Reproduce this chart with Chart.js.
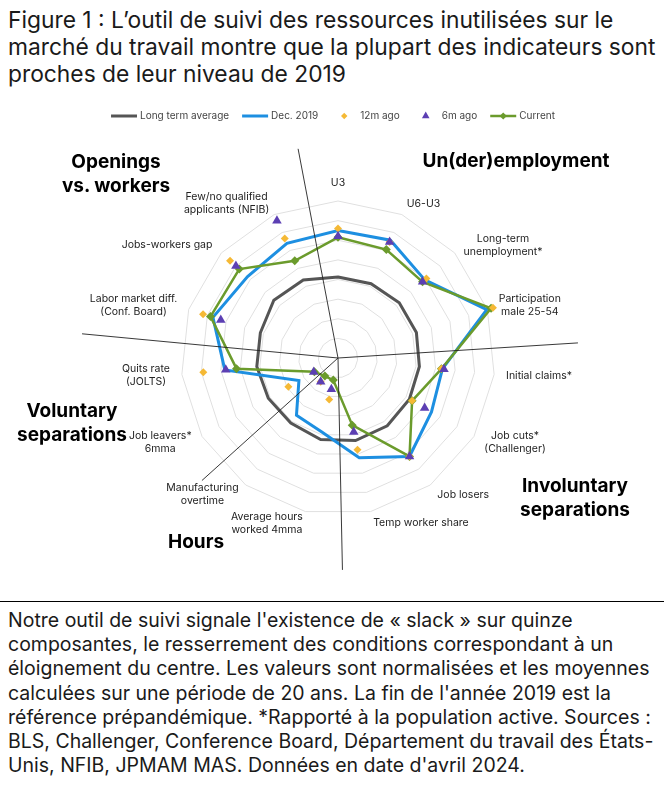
<!DOCTYPE html>
<html>
<head>
<meta charset="utf-8">
<script src="https://cdn.jsdelivr.net/npm/chart.js@4.4.1/dist/chart.umd.min.js"></script>
<style>
  body { margin: 0; width: 664px; height: 793px; background: #fff; position: relative; overflow: hidden;
         font-family: Inter, Roboto, sans-serif; color: #111; }
  #title { position: absolute; left: 8px; top: 6px; font-size: 22.8px; line-height: 27px; white-space: nowrap; color: #1a1a1a; }
  #wrap { position: absolute; left: 0; top: 100px; width: 664px; height: 490px; }
  .sect { position: absolute; transform: translate(-50%, -50%); font-weight: bold; font-size: 19px;
          line-height: 24px; text-align: center; white-space: nowrap; color: #000; }
  #rule { position: absolute; left: 0; top: 601px; width: 664px; height: 1px; background: #000; }
  #note { position: absolute; left: 8px; top: 608px; font-size: 19.5px; line-height: 24.2px; white-space: nowrap; color: #1a1a1a; }
</style>
</head>
<body>
<div id="title">Figure 1 : L’outil de suivi des ressources inutilisées sur le<br>marché du travail montre que la plupart des indicateurs sont<br>proches de leur niveau de 2019</div>

<div id="wrap"><canvas id="chart" width="664" height="490"></canvas></div>

<div class="sect" style="left:116px; top:174px">Openings<br>vs. workers</div>
<div class="sect" style="left:516px; top:161px">Un(der)employment</div>
<div class="sect" style="left:72px; top:423px">Voluntary<br>separations</div>
<div class="sect" style="left:575px; top:498px">Involuntary<br>separations</div>
<div class="sect" style="left:196px; top:542px">Hours</div>

<div id="rule"></div>
<div id="note">Notre outil de suivi signale l'existence de « slack » sur quinze<br>composantes, le resserrement des conditions correspondant à un<br>éloignement du centre. Les valeurs sont normalisées et les moyennes<br>calculées sur une période de 20 ans. La fin de l'année 2019 est la<br>référence prépandémique. *Rapporté à la population active. Sources :<br>BLS, Challenger, Conference Board, Département du travail des États-<br>Unis, NFIB, JPMAM MAS. Données en date d'avril 2024.</div>

<script>
// spokes, clockwise from the top
const categories = [
  "U3",
  "U6-U3",
  ["Long-term", "unemployment*"],
  ["Participation", "male 25-54"],
  "Initial claims*",
  ["Job cuts*", "(Challenger)"],
  "Job losers",
  "Temp worker share",
  ["Average hours", "worked 4mma"],
  ["Manufacturing", "overtime"],
  ["Job leavers*", "6mma"],
  ["Quits rate", "(JOLTS)"],
  ["Labor market diff.", "(Conf. Board)"],
  "Jobs-workers gap",
  ["Few/no qualified", "applicants (NFIB)"]
];

// values, in grid rings from the centre
const longTermAvg = [4.13, 4.14, 4.2, 4.2, 4.17, 4.2, 4.27, 4.3, 4.25, 4.09, 4.1, 4.16, 4.16, 4.4, 4.35];
const dec2019     = [6.5, 6.57, 5.95, 7.97, 5.35, 5.5, 6.2, 5.2, 3.87, 3.6, 2.3, 5.8, 6.7, 6.2, 6.4];
const ago12m      = [6.6, 6.47, 6.06, 8.3, 5.3, 4.36, 6.2, 4.78, 2.16, 1.5, 2.92, 6.9, 7.23, 7.4, 6.67];
const ago6m       = [6.2, 6.47, 5.8, null, 5.43, 5.1, 6.2, 3.86, 1.63, 1.5, 1.43, 5.75, 6.28, 7.0, 7.65];
const current     = [6.15, 6.05, 5.8, 8.2, 5.3, 4.36, 6.2, 3.5, 1.15, 1.14, 1.39, 5.2, 6.83, 6.77, 5.42];

const gridMax = 8;

// thin lines between the groups: spoke position and reach (in rings)
const dividers = [
  { at: 14.55, reach: 10.85 },
  { at: 3.6, reach: 12.25 },
  { at: 7.45, reach: 10.8 },
  { at: 9.5, reach: 9.33 },
  { at: 11.475, reach: 13.1 }
];

const labelFont = "10.5px Inter";

const radarExtras = {
  id: "radarExtras",
  afterDatasetsDraw(chart) {
    const r = chart.scales.r;
    const ctx = chart.ctx;
    ctx.save();
    ctx.strokeStyle = "#222";
    ctx.lineWidth = 0.9;
    dividers.forEach(d => {
      const len = d.reach * r.drawingArea / gridMax;
      const p = r.getPointPosition(d.at, len);
      ctx.beginPath();
      ctx.moveTo(r.xCenter, r.yCenter);
      ctx.lineTo(p.x, p.y);
      ctx.stroke();
    });
    ctx.restore();
  },
  afterDraw(chart) {
    const r = chart.scales.r;
    const ctx = chart.ctx;
    ctx.save();

    // spoke labels
    ctx.font = labelFont;
    ctx.fillStyle = "#222";
    ctx.textBaseline = "middle";
    ctx.textAlign = "center";
    const lh = 13;
    const dist = r.drawingArea + 12;
    categories.forEach((lab, i) => {
      const lines = [].concat(lab);
      const p = r.getPointPosition(i, dist);
      const deg = i * 360 / categories.length;
      const w = Math.max(...lines.map(s => ctx.measureText(s).width));
      const left = (deg === 0 || deg === 180) ? p.x - w / 2 : (deg < 180 ? p.x : p.x - w);
      const top = i === 0 ? p.y - lines.length * lh : p.y - lines.length * lh / 2;
      lines.forEach((s, k) => ctx.fillText(s, left + w / 2, top + lh * k + lh / 2));
    });

    // legend row
    const items = chart.data.datasets;
    const box = 26, gap = 3, spacing = 13;
    ctx.font = "10px Inter";
    const widths = items.map(ds => box + gap + ctx.measureText(ds.label).width);
    const total = widths.reduce((a, b) => a + b, 0) + spacing * (items.length - 1);
    let x = 333 - total / 2;
    const y = 16;
    items.forEach((ds, i) => {
      if (ds.showLine !== false) {
        ctx.strokeStyle = ds.borderColor;
        ctx.lineWidth = ds.borderWidth;
        ctx.beginPath();
        ctx.moveTo(x, y);
        ctx.lineTo(x + box, y);
        ctx.stroke();
      }
      if (ds.pointRadius > 0) {
        ctx.fillStyle = ds.pointBackgroundColor || ds.backgroundColor;
        ctx.strokeStyle = ctx.fillStyle;
        Chart.helpers.drawPoint(ctx, { pointStyle: ds.pointStyle, radius: ds.pointRadius * 0.8, rotation: 0, borderWidth: 0 }, x + box / 2, y);
      }
      ctx.fillStyle = "#444";
      ctx.textAlign = "left";
      ctx.fillText(ds.label, x + box + gap, y);
      x += widths[i] + spacing;
    });
    ctx.restore();
  }
};

new Chart(document.getElementById("chart"), {
  type: "radar",
  data: {
    labels: categories,
    datasets: [
      { label: "Long term average", data: longTermAvg, borderColor: "#555555", borderWidth: 3,
        pointRadius: 0, fill: false, order: 5, clip: false },
      { label: "Dec. 2019", data: dec2019, borderColor: "#1d8fe1", borderWidth: 3,
        pointRadius: 0, fill: false, order: 4, clip: false },
      { label: "12m ago", data: ago12m, showLine: false, fill: false, pointStyle: "rectRot", pointRadius: 4,
        backgroundColor: "#f5b935", borderColor: "#f5b935", pointBorderWidth: 0, order: 2, clip: false },
      { label: "6m ago", data: ago6m, showLine: false, fill: false, pointStyle: "triangle", pointRadius: 5.5,
        backgroundColor: "#5c3fb3", borderColor: "#5c3fb3", pointBorderWidth: 0, order: 1, clip: false },
      { label: "Current", data: current, borderColor: "#6b9b2c", borderWidth: 2.5, pointStyle: "rectRot",
        pointRadius: 4.5, pointBackgroundColor: "#6b9b2c", pointBorderWidth: 0, fill: false, order: 3, clip: false }
    ]
  },
  options: {
    responsive: false,
    animation: false,
    layout: { padding: { left: 181, right: 169, top: 101, bottom: 75 } },
    elements: { line: { tension: 0 } },
    plugins: { legend: { display: false }, tooltip: { enabled: false } },
    scales: {
      r: {
        min: 0,
        max: gridMax,
        ticks: { stepSize: 1, display: false },
        grid: { color: "#e0e0e0", lineWidth: 1 },
        angleLines: { display: false },
        pointLabels: { display: false }
      }
    }
  },
  plugins: [radarExtras]
});
</script>
</body>
</html>
